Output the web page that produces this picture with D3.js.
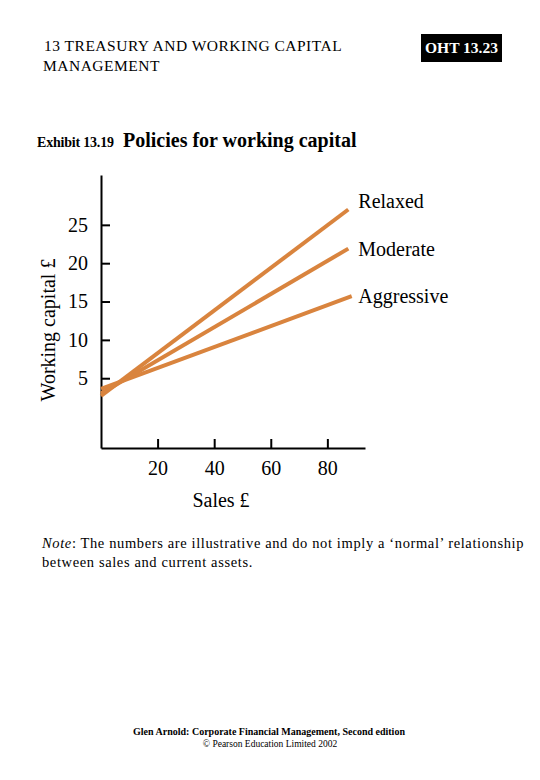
<!DOCTYPE html>
<html>
<head>
<meta charset="utf-8">
<title>Policies for working capital</title>
<style>
  body { margin: 0; background: #fff; }
  svg text { font-family: "Liberation Serif", "Times New Roman", serif; fill: #000; }
  .policy { fill: none; stroke: #d9843e; stroke-width: 4px; stroke-linecap: butt; }
  .axis path, .axis line { stroke: #000; stroke-width: 2px; }
</style>
</head>
<body>
<svg id="chart" width="540" height="780"></svg>
<script src="https://d3js.org/d3.v7.min.js"></script>
<script>
// data
var policies = ["Relaxed", "Moderate", "Aggressive"];
var salesStart = [0, 0, 0];
var salesEnd = [87.4, 87.4, 88.6];
var wcStart = [2.7, 3.0, 3.6];
var wcEnd = [27.0, 21.9, 15.7];
var xTicks = [20, 40, 60, 80];
var yTicks = [5, 10, 15, 20, 25];

var svg = d3.select("#chart");

// ---- header ----
svg.append("text").attr("x", 44).attr("y", 51)
  .style("font-size", "15.5px").style("letter-spacing", "0.5px")
  .text("13  TREASURY AND WORKING CAPITAL");
svg.append("text").attr("x", 43).attr("y", 71)
  .style("font-size", "15.5px").style("letter-spacing", "0.5px")
  .text("MANAGEMENT");
svg.append("rect").attr("x", 421).attr("y", 34).attr("width", 81).attr("height", 28).attr("fill", "#000");
svg.append("text").attr("x", 461.5).attr("y", 53).attr("text-anchor", "middle")
  .style("font-size", "15.5px").style("font-weight", "bold").style("fill", "#fff")
  .text("OHT 13.23");

svg.append("text").attr("x", 37).attr("y", 147)
  .style("font-size", "14px").style("font-weight", "bold").style("letter-spacing", "-0.2px")
  .text("Exhibit 13.19");
svg.append("text").attr("x", 123).attr("y", 147)
  .style("font-size", "20px").style("font-weight", "bold")
  .text("Policies for working capital");

// ---- chart ----
var margin = {top: 175, left: 101},
    width = 264, height = 273;

var g = svg.append("g").attr("transform", "translate(" + margin.left + "," + margin.top + ")");

var x = d3.scaleLinear().domain([0, 93.3]).range([0, width]);
var y = d3.scaleLinear().domain([-4.1, 31.5]).range([height, 0]);

var xAxis = g.append("g").attr("class", "axis")
  .attr("transform", "translate(0," + height + ")")
  .call(d3.axisBottom(x).tickValues(xTicks).tickSizeInner(-9).tickSizeOuter(0).tickPadding(13));
var yAxis = g.append("g").attr("class", "axis")
  .call(d3.axisLeft(y).tickValues(yTicks).tickSizeInner(-9).tickSizeOuter(0).tickPadding(13));

g.selectAll(".axis").attr("font-family", null).attr("font-size", null);
g.selectAll(".axis text").style("font-size", "20px");

var rows = policies.map(function(p, i) {
  return {name: p, x0: salesStart[i], y0: wcStart[i], x1: salesEnd[i], y1: wcEnd[i]};
});

g.selectAll("line.policy")
  .data(rows)
  .enter()
  .append("line")
    .attr("class", "policy")
    .attr("x1", function(d) { return x(d.x0); })
    .attr("y1", function(d) { return y(d.y0); })
    .attr("x2", function(d) { return x(d.x1); })
    .attr("y2", function(d) { return y(d.y1); });

var labelShift = [-2, 7, 7];
g.selectAll("text.label")
  .data(rows)
  .enter()
  .append("text")
    .attr("class", "label")
    .attr("x", function(d) { return x(87.4) + 10; })
    .attr("y", function(d, i) { return y(d.y1) + labelShift[i]; })
    .style("font-size", "20px")
    .text(function(d) { return d.name; });

// axis titles
g.append("text")
  .attr("x", width / 2 - 12).attr("y", height + 59)
  .attr("text-anchor", "middle")
  .style("font-size", "20px")
  .text("Sales £");
g.append("text")
  .attr("transform", "translate(-46," + (330 - margin.top) + ") rotate(-90)")
  .attr("text-anchor", "middle")
  .style("font-size", "20px")
  .text("Working capital £");

// ---- note ----
var note = svg.append("text").attr("x", 42).attr("y", 548)
  .style("font-size", "14.5px").style("letter-spacing", "0.62px");
note.append("tspan").style("font-style", "italic").text("Note");
note.append("tspan").text(": The numbers are illustrative and do not imply a \u2018normal\u2019 relationship");
svg.append("text").attr("x", 42).attr("y", 567)
  .style("font-size", "14.5px").style("letter-spacing", "0.62px")
  .text("between sales and current assets.");

// ---- footer ----
svg.append("text").attr("x", 269).attr("y", 735).attr("text-anchor", "middle")
  .style("font-size", "10px").style("font-weight", "bold")
  .text("Glen Arnold: Corporate Financial Management, Second edition");
svg.append("text").attr("x", 270).attr("y", 747).attr("text-anchor", "middle")
  .style("font-size", "9.5px")
  .text("© Pearson Education Limited 2002");
</script>
</body>
</html>
